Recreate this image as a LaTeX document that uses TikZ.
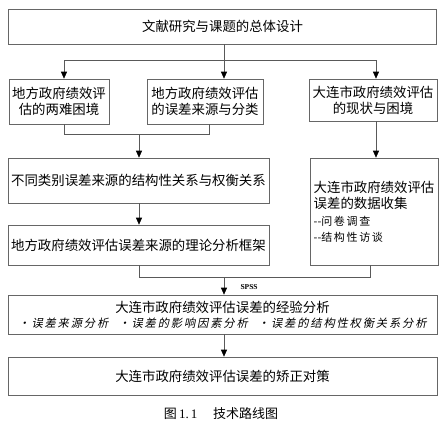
\documentclass[tikz,border=0pt]{standalone}
\usepackage{fontspec}
\setmainfont{Noto Sans CJK SC}
\newfontfamily\cjkslant[FakeSlant=0.2,LetterSpace=16]{Noto Sans CJK SC}
\newfontfamily\cjkspaced[LetterSpace=15]{Noto Sans CJK SC}
\newfontfamily\serifen{Liberation Serif}
\usetikzlibrary{arrows.meta}
\tikzset{
  box/.style={draw=black!60, line width=0.6pt, inner sep=0pt, align=center,
    font=\fontsize{13.4}{16}\selectfont},
  conn/.style={draw=black!65, line width=0.6pt},
  arr/.style={conn, -{Triangle[length=7pt,width=6pt,color=black,fill=black]}},
}
\begin{document}
\begin{tikzpicture}[x=1pt,y=-1pt]
\useasboundingbox (0,0) rectangle (447,426);
\node[box, minimum width=428pt, minimum height=35pt] (top) at (222.5,26.5) {文献研究与课题的总体设计};
\node[box, minimum width=100pt, minimum height=45pt] (A) at (59,101.5) {地方政府绩效评\\估的两难困境};
\node[box, minimum width=116pt, minimum height=45pt] (B) at (205,101.5) {地方政府绩效评估\\的误差来源与分类};
\node[box, minimum width=128pt, minimum height=42pt] (C) at (373,100) {大连市政府绩效评估\\的现状与困境};
\node[box, minimum width=261pt, minimum height=45pt] (D) at (138.5,180.5) {不同类别误差来源的结构性关系与权衡关系};
\node[box, minimum width=261pt, minimum height=40pt] (F) at (138.5,245) {地方政府绩效评估误差来源的理论分析框架};
\node[box, minimum width=128pt, minimum height=107pt, align=left] (E) at (374,211.5)
  {大连市政府绩效评估\\误差的数据收集\\[1pt]{\fontsize{11}{17}\selectfont -{}-\cjkspaced 问卷调查}\\{\fontsize{11}{17}\selectfont -{}-\cjkspaced 结构性访谈}};
\node[box, minimum width=429pt, minimum height=39pt] (G) at (222.5,314.5)
  {大连市政府绩效评估误差的经验分析\\[-1pt]{\fontsize{11.3}{14}\selectfont\cjkslant ·误差来源分析\hspace{0.9em}·误差的影响因素分析\hspace{0.9em}·误差的结构性权衡关系分析}};
\node[box, minimum width=429pt, minimum height=38pt] (H) at (222.5,376) {大连市政府绩效评估误差的矫正对策};
\node[font=\fontsize{13}{15}\selectfont] (cap) at (221,414) {图\,{\serifen 1.\,1}\hspace{1.2em}技术路线图};
% split from top
\coordinate (s1) at (224,60);
\coordinate (s1l) at (64,60);
\coordinate (s1r) at (376,60);
\draw[conn] (top.south -| s1) -- (s1);
\draw[conn] (s1l) -- (s1r);
\draw[arr] (s1l) -- (s1l |- A.north);
\draw[arr] (s1) -- (s1 |- B.north);
\draw[arr] (s1r) -- (s1r |- C.north);
% merge A,B -> D
\coordinate (m1l) at (64,134);
\coordinate (m1r) at (209,134);
\coordinate (m1) at (139,134);
\draw[conn] (A.south -| m1l) -- (m1l) -- (m1r) -- (B.south -| m1r);
\draw[arr] (m1) -- (m1 |- D.north);
% C -> E
\draw[arr] (C.south -| s1r) -- (E.north -| s1r);
% D -> F
\draw[arr] (D.south -| m1) -- (F.north -| m1);
% merge F,E -> G
\coordinate (m2l) at (139,277);
\coordinate (m2r) at (370,277);
\coordinate (m2) at (224,277);
\draw[conn] (F.south -| m2l) -- (m2l) -- (m2r) -- (E.south -| m2r);
\draw[arr] (m2) -- (m2 |- G.north);
\node[font=\fontsize{7.5}{9}\selectfont\serifen\bfseries, anchor=west] (spss) at (237,287.5) {SPSS};
% G -> H
\draw[arr] (G.south -| m2) -- (H.north -| m2);
\end{tikzpicture}
\end{document}
